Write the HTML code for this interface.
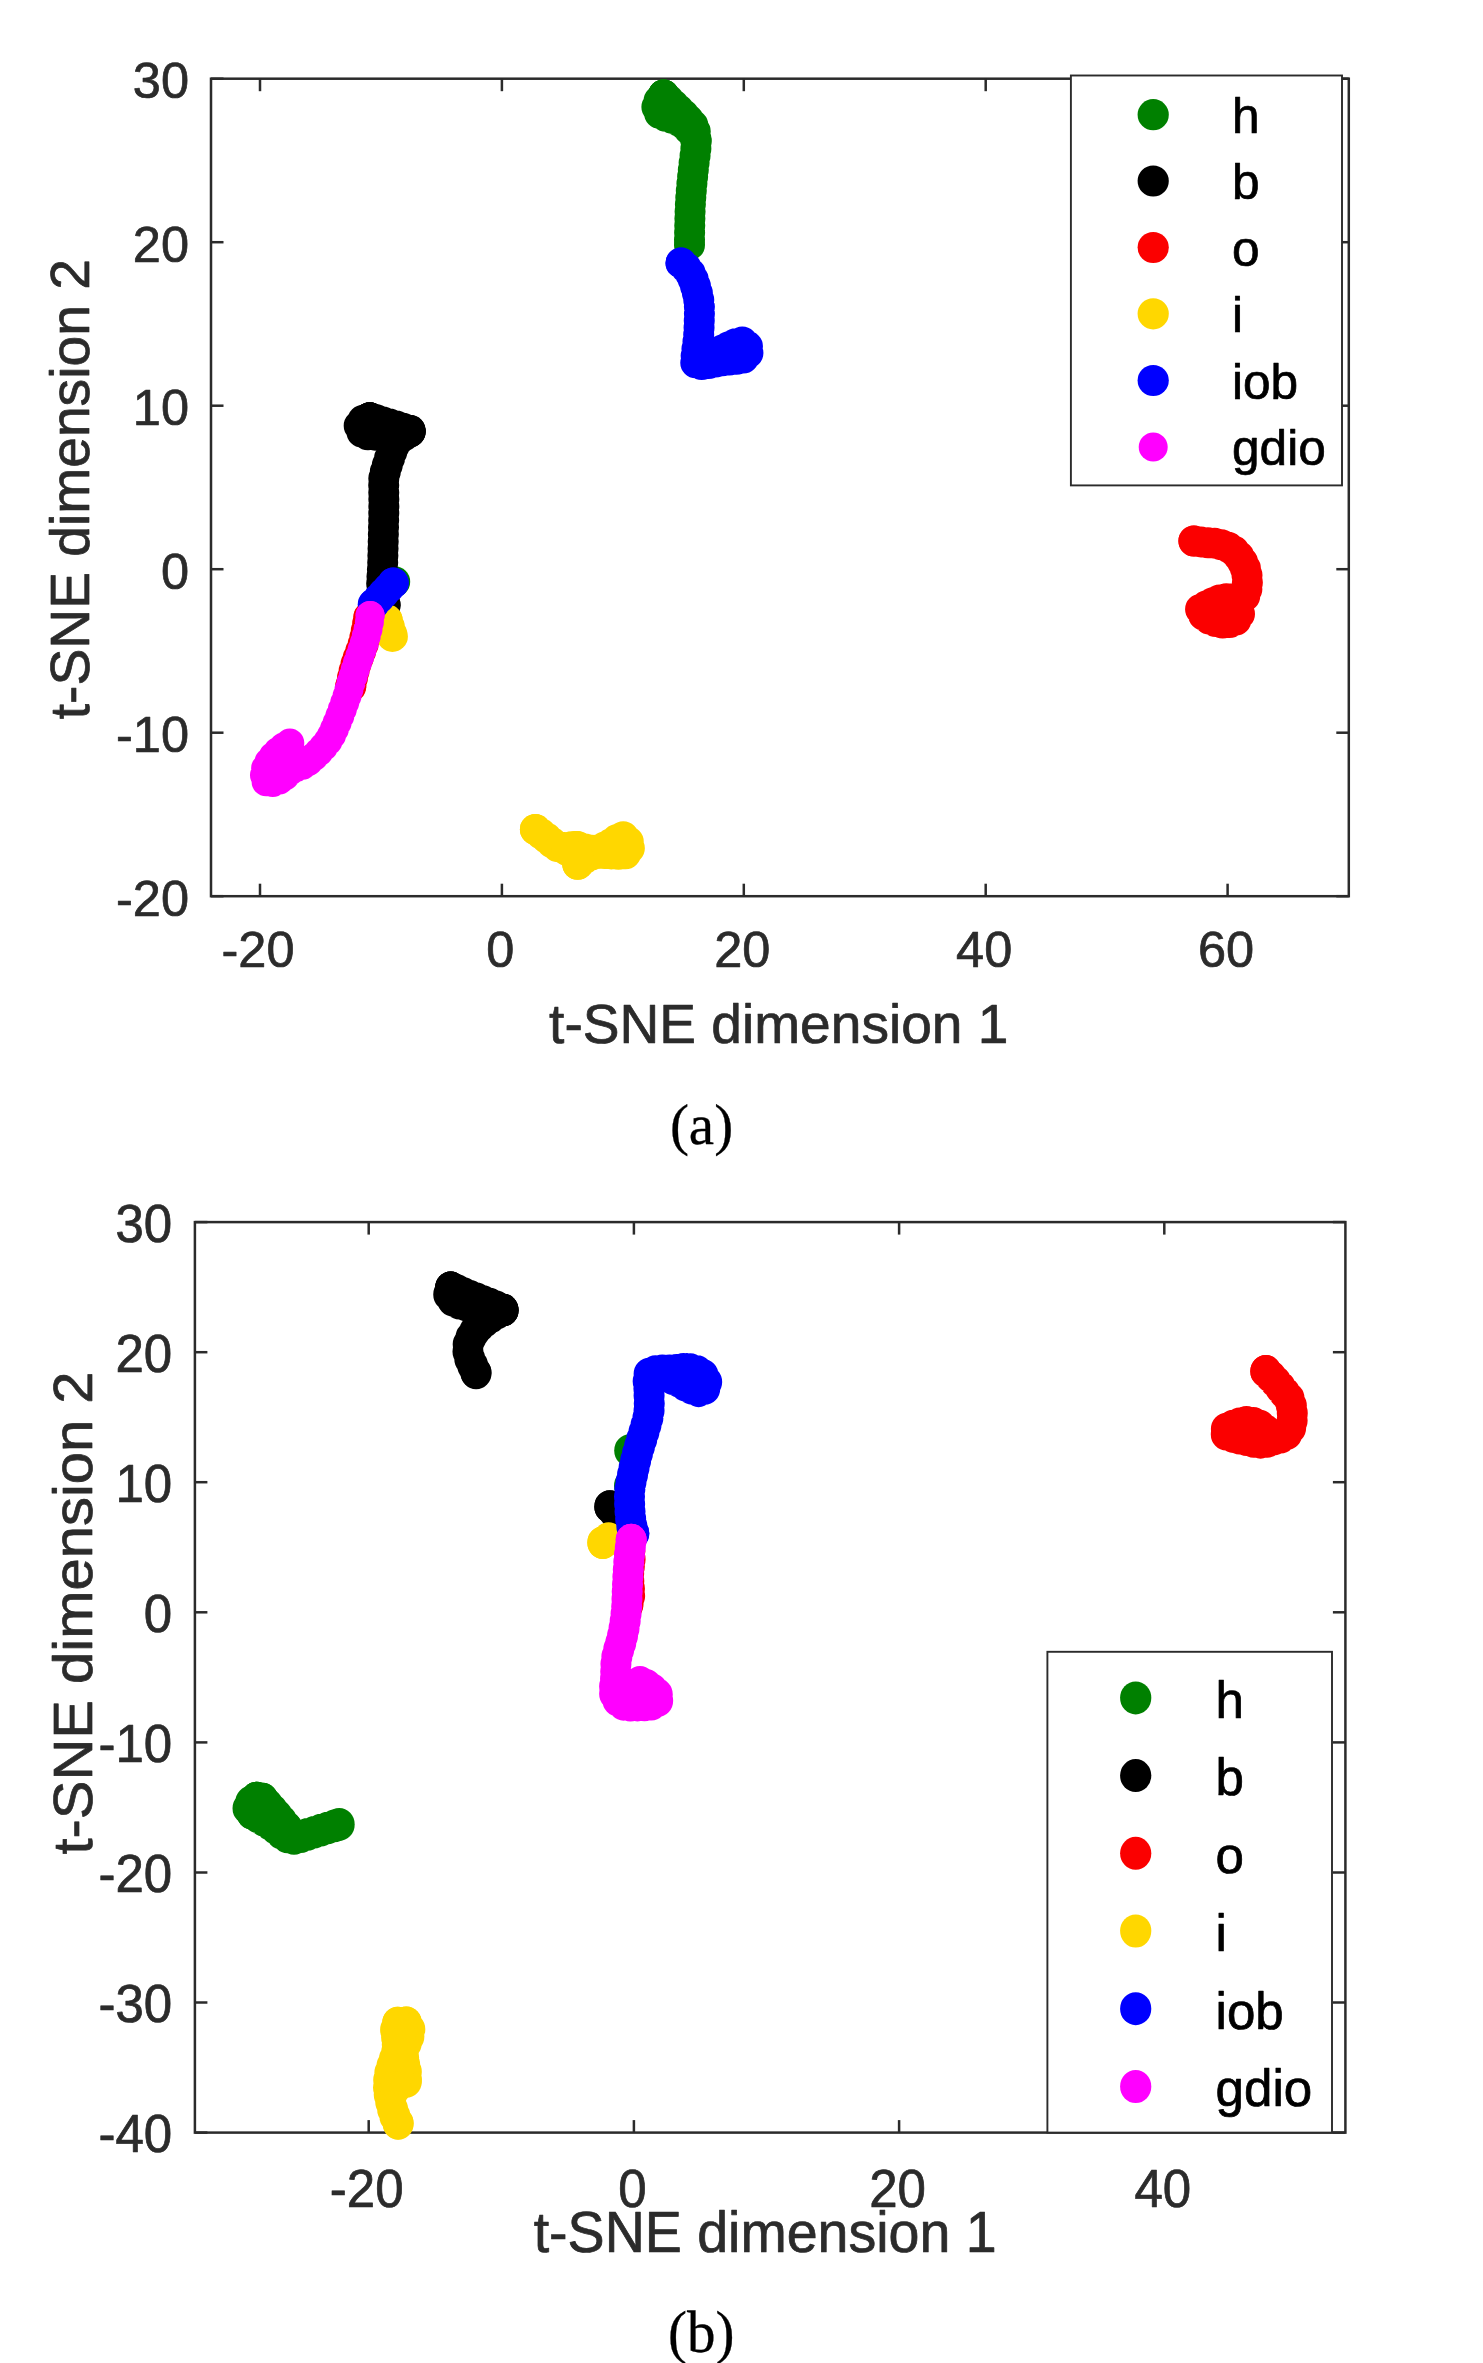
<!DOCTYPE html>
<html lang="en"><head><meta charset="utf-8"><title>t-SNE</title>
<style>html,body{margin:0;padding:0;background:#fff}svg{display:block}</style></head><body>
<svg width="1483" height="2363" viewBox="0 0 1483 2363">
<rect width="1483" height="2363" fill="#fff"/>
<g id="plotA">
<rect x="211.0" y="78.7" width="1137.8" height="817.5" fill="none" stroke="#2b2b2b" stroke-width="2.50"/>
<line x1="260.0" y1="896.2" x2="260.0" y2="883.7" stroke="#2b2b2b" stroke-width="2.50"/>
<line x1="260.0" y1="78.7" x2="260.0" y2="91.2" stroke="#2b2b2b" stroke-width="2.50"/>
<line x1="501.9" y1="896.2" x2="501.9" y2="883.7" stroke="#2b2b2b" stroke-width="2.50"/>
<line x1="501.9" y1="78.7" x2="501.9" y2="91.2" stroke="#2b2b2b" stroke-width="2.50"/>
<line x1="743.8" y1="896.2" x2="743.8" y2="883.7" stroke="#2b2b2b" stroke-width="2.50"/>
<line x1="743.8" y1="78.7" x2="743.8" y2="91.2" stroke="#2b2b2b" stroke-width="2.50"/>
<line x1="985.7" y1="896.2" x2="985.7" y2="883.7" stroke="#2b2b2b" stroke-width="2.50"/>
<line x1="985.7" y1="78.7" x2="985.7" y2="91.2" stroke="#2b2b2b" stroke-width="2.50"/>
<line x1="1227.6" y1="896.2" x2="1227.6" y2="883.7" stroke="#2b2b2b" stroke-width="2.50"/>
<line x1="1227.6" y1="78.7" x2="1227.6" y2="91.2" stroke="#2b2b2b" stroke-width="2.50"/>
<line x1="211.0" y1="78.7" x2="223.5" y2="78.7" stroke="#2b2b2b" stroke-width="2.50"/>
<line x1="1348.8" y1="78.7" x2="1336.3" y2="78.7" stroke="#2b2b2b" stroke-width="2.50"/>
<line x1="211.0" y1="242.2" x2="223.5" y2="242.2" stroke="#2b2b2b" stroke-width="2.50"/>
<line x1="1348.8" y1="242.2" x2="1336.3" y2="242.2" stroke="#2b2b2b" stroke-width="2.50"/>
<line x1="211.0" y1="405.7" x2="223.5" y2="405.7" stroke="#2b2b2b" stroke-width="2.50"/>
<line x1="1348.8" y1="405.7" x2="1336.3" y2="405.7" stroke="#2b2b2b" stroke-width="2.50"/>
<line x1="211.0" y1="569.2" x2="223.5" y2="569.2" stroke="#2b2b2b" stroke-width="2.50"/>
<line x1="1348.8" y1="569.2" x2="1336.3" y2="569.2" stroke="#2b2b2b" stroke-width="2.50"/>
<line x1="211.0" y1="732.7" x2="223.5" y2="732.7" stroke="#2b2b2b" stroke-width="2.50"/>
<line x1="1348.8" y1="732.7" x2="1336.3" y2="732.7" stroke="#2b2b2b" stroke-width="2.50"/>
<line x1="211.0" y1="896.2" x2="223.5" y2="896.2" stroke="#2b2b2b" stroke-width="2.50"/>
<line x1="1348.8" y1="896.2" x2="1336.3" y2="896.2" stroke="#2b2b2b" stroke-width="2.50"/>
<text transform="translate(258.0 967.4)" font-family='"Liberation Sans", Arial, Helvetica, sans-serif' font-size="50.5" text-anchor="middle" fill="#2b2b2b" stroke="#2b2b2b" stroke-width="0.7" stroke-linejoin="round">-20</text>
<text transform="translate(500.4 967.4)" font-family='"Liberation Sans", Arial, Helvetica, sans-serif' font-size="50.5" text-anchor="middle" fill="#2b2b2b" stroke="#2b2b2b" stroke-width="0.7" stroke-linejoin="round">0</text>
<text transform="translate(742.3 967.4)" font-family='"Liberation Sans", Arial, Helvetica, sans-serif' font-size="50.5" text-anchor="middle" fill="#2b2b2b" stroke="#2b2b2b" stroke-width="0.7" stroke-linejoin="round">20</text>
<text transform="translate(984.2 967.4)" font-family='"Liberation Sans", Arial, Helvetica, sans-serif' font-size="50.5" text-anchor="middle" fill="#2b2b2b" stroke="#2b2b2b" stroke-width="0.7" stroke-linejoin="round">40</text>
<text transform="translate(1226.1 967.4)" font-family='"Liberation Sans", Arial, Helvetica, sans-serif' font-size="50.5" text-anchor="middle" fill="#2b2b2b" stroke="#2b2b2b" stroke-width="0.7" stroke-linejoin="round">60</text>
<text transform="translate(189.0 98.3)" font-family='"Liberation Sans", Arial, Helvetica, sans-serif' font-size="50.5" text-anchor="end" fill="#2b2b2b" stroke="#2b2b2b" stroke-width="0.7" stroke-linejoin="round">30</text>
<text transform="translate(189.0 261.8)" font-family='"Liberation Sans", Arial, Helvetica, sans-serif' font-size="50.5" text-anchor="end" fill="#2b2b2b" stroke="#2b2b2b" stroke-width="0.7" stroke-linejoin="round">20</text>
<text transform="translate(189.0 425.3)" font-family='"Liberation Sans", Arial, Helvetica, sans-serif' font-size="50.5" text-anchor="end" fill="#2b2b2b" stroke="#2b2b2b" stroke-width="0.7" stroke-linejoin="round">10</text>
<text transform="translate(189.0 588.8)" font-family='"Liberation Sans", Arial, Helvetica, sans-serif' font-size="50.5" text-anchor="end" fill="#2b2b2b" stroke="#2b2b2b" stroke-width="0.7" stroke-linejoin="round">0</text>
<text transform="translate(189.0 752.3)" font-family='"Liberation Sans", Arial, Helvetica, sans-serif' font-size="50.5" text-anchor="end" fill="#2b2b2b" stroke="#2b2b2b" stroke-width="0.7" stroke-linejoin="round">-10</text>
<text transform="translate(189.0 915.8)" font-family='"Liberation Sans", Arial, Helvetica, sans-serif' font-size="50.5" text-anchor="end" fill="#2b2b2b" stroke="#2b2b2b" stroke-width="0.7" stroke-linejoin="round">-20</text>
<text transform="translate(549.1 1043.1)" font-family='"Liberation Sans", Arial, Helvetica, sans-serif' font-size="55.1" text-anchor="start" fill="#2b2b2b" stroke="#2b2b2b" stroke-width="0.7" stroke-linejoin="round">t-SNE dimension 1</text>
<text transform="translate(89.0 489.2) rotate(-90)" font-family='"Liberation Sans", Arial, Helvetica, sans-serif' font-size="55.2" text-anchor="middle" fill="#2b2b2b" stroke="#2b2b2b" stroke-width="0.7" stroke-linejoin="round">t-SNE dimension 2</text>
<path d="M663.6 95.0C662.6 96.3 658.6 100.6 657.6 103.2C656.5 105.7 656.8 108.4 657.6 110.4C658.3 112.3 659.8 113.8 661.9 115.0C663.9 116.1 666.9 116.2 669.9 117.3C672.9 118.4 676.9 119.7 680.0 121.6C683.1 123.5 686.0 125.6 688.6 128.8C691.3 131.9 695.2 134.1 696.0 140.6C696.8 147.1 694.3 159.8 693.5 167.9C692.8 176.1 691.9 182.3 691.4 189.5C690.8 196.7 690.4 202.7 690.1 211.1C689.8 219.5 689.6 234.2 689.5 239.9C689.4 245.5 689.5 244.1 689.5 244.9" fill="none" stroke="#008000" stroke-width="31.0" stroke-linecap="round" stroke-linejoin="round" stroke-dasharray="0 7.0"/>
<circle cx="663.6" cy="95.0" r="15.5" fill="#008000"/>
<circle cx="689.5" cy="244.9" r="15.5" fill="#008000"/>
<path d="M663.6 95.0C665.5 96.8 671.0 102.3 674.8 106.0C678.6 109.8 683.1 114.0 686.3 117.6C689.6 121.2 692.6 123.8 694.2 127.6C695.9 131.5 695.7 138.4 696.0 140.6" fill="none" stroke="#008000" stroke-width="31.0" stroke-linecap="round" stroke-linejoin="round" stroke-dasharray="0 7.0"/>
<circle cx="663.6" cy="95.0" r="15.5" fill="#008000"/>
<circle cx="696.0" cy="140.6" r="15.5" fill="#008000"/>
<polyline points="664.7,106.0 680.6,117.6" fill="none" stroke="#008000" stroke-width="31.0" stroke-linecap="round" stroke-linejoin="round" stroke-dasharray="0 7.0"/>
<circle cx="664.7" cy="106.0" r="15.5" fill="#008000"/>
<circle cx="680.6" cy="117.6" r="15.5" fill="#008000"/>
<circle cx="394.7" cy="581.8" r="15.5" fill="#008000"/>
<path d="M410.1 431.6C408.0 433.1 400.7 437.4 397.8 440.4C394.9 443.4 394.3 446.1 392.7 449.5C391.2 453.0 389.8 457.5 388.6 461.1C387.4 464.7 386.3 468.4 385.5 471.3C384.7 474.1 384.1 471.6 383.8 478.4C383.5 485.1 384.0 497.8 383.8 511.9C383.6 525.9 383.0 550.0 382.7 562.7C382.3 575.4 381.3 580.9 381.8 588.0C382.2 595.2 384.6 602.4 385.2 605.3" fill="none" stroke="#000000" stroke-width="31.0" stroke-linecap="round" stroke-linejoin="round" stroke-dasharray="0 7.0"/>
<circle cx="410.1" cy="431.6" r="15.5" fill="#000000"/>
<circle cx="385.2" cy="605.3" r="15.5" fill="#000000"/>
<path d="M369.8 417.7C368.6 418.2 364.4 419.0 362.7 420.5C360.9 421.9 359.1 424.5 359.1 426.6C359.1 428.6 360.9 431.3 362.7 432.7C364.4 434.0 365.9 434.5 369.8 434.9C373.7 435.3 381.3 435.1 386.0 435.2C390.7 435.3 393.8 436.3 397.8 435.7C401.8 435.1 408.0 432.5 410.1 431.8" fill="none" stroke="#000000" stroke-width="31.0" stroke-linecap="round" stroke-linejoin="round" stroke-dasharray="0 7.0"/>
<circle cx="369.8" cy="417.7" r="15.5" fill="#000000"/>
<circle cx="410.1" cy="431.8" r="15.5" fill="#000000"/>
<polyline points="369.8,417.7 410.1,430.4" fill="none" stroke="#000000" stroke-width="31.0" stroke-linecap="round" stroke-linejoin="round" stroke-dasharray="0 7.0"/>
<circle cx="369.8" cy="417.7" r="15.5" fill="#000000"/>
<circle cx="410.1" cy="430.4" r="15.5" fill="#000000"/>
<polyline points="372.8,427.6 397.2,433.7" fill="none" stroke="#000000" stroke-width="31.0" stroke-linecap="round" stroke-linejoin="round" stroke-dasharray="0 7.0"/>
<circle cx="372.8" cy="427.6" r="15.5" fill="#000000"/>
<circle cx="397.2" cy="433.7" r="15.5" fill="#000000"/>
<path d="M1193.9 541.0C1196.1 541.3 1202.9 542.2 1206.9 542.6C1210.8 543.1 1213.7 542.7 1217.7 543.7C1221.6 544.7 1226.8 546.1 1230.6 548.5C1234.4 551.0 1237.7 554.5 1240.3 558.3C1242.9 562.0 1245.1 566.7 1246.3 571.2C1247.4 575.7 1247.5 581.3 1247.3 585.2C1247.2 589.2 1246.2 592.4 1245.2 594.9C1244.2 597.4 1243.6 599.7 1241.4 600.3C1239.2 601.0 1235.3 598.8 1231.7 598.7C1228.1 598.6 1223.6 598.8 1219.8 599.8C1216.1 600.8 1212.3 603.0 1209.0 604.6C1205.8 606.3 1201.1 607.6 1200.4 609.5C1199.7 611.4 1202.6 614.1 1204.7 616.0C1206.9 617.9 1210.1 619.7 1213.4 620.8C1216.6 622.0 1220.5 623.0 1224.1 623.0C1227.7 623.0 1232.4 622.6 1234.9 620.8C1237.4 619.0 1240.7 613.6 1239.2 612.2C1237.8 610.8 1230.6 612.2 1226.3 612.2C1222.0 612.2 1215.5 612.2 1213.4 612.2" fill="none" stroke="#fb0000" stroke-width="31.0" stroke-linecap="round" stroke-linejoin="round" stroke-dasharray="0 7.0"/>
<circle cx="1193.9" cy="541.0" r="15.5" fill="#fb0000"/>
<circle cx="1213.4" cy="612.2" r="15.5" fill="#fb0000"/>
<path d="M368.9 617.1C368.0 621.3 365.9 634.2 363.7 642.4C361.4 650.5 357.5 658.7 355.4 666.1C353.2 673.5 351.4 683.4 350.6 686.9" fill="none" stroke="#fb0000" stroke-width="31.0" stroke-linecap="round" stroke-linejoin="round" stroke-dasharray="0 7.0"/>
<circle cx="368.9" cy="617.1" r="15.5" fill="#fb0000"/>
<circle cx="350.6" cy="686.9" r="15.5" fill="#fb0000"/>
<path d="M535.4 829.5C537.3 830.9 543.0 835.2 546.6 838.0C550.2 840.8 553.7 844.8 557.0 846.4C560.4 847.9 563.7 847.4 566.9 847.4C570.1 847.4 572.9 846.0 576.3 846.4C579.7 846.7 583.5 848.8 587.1 849.5C590.7 850.1 593.8 851.1 597.9 850.1C601.9 849.1 607.2 845.6 611.4 843.4C615.5 841.1 619.8 836.4 622.8 836.6C625.9 836.9 628.8 842.3 629.6 844.7C630.4 847.2 628.6 849.9 627.6 851.5C626.5 853.1 626.2 853.8 623.5 854.2C620.8 854.6 615.6 854.0 611.4 853.9C607.1 853.8 601.9 853.0 597.9 853.5C593.8 854.0 590.5 855.1 587.1 856.9C583.7 858.7 579.2 863.1 577.7 864.3" fill="none" stroke="#ffd700" stroke-width="31.0" stroke-linecap="round" stroke-linejoin="round" stroke-dasharray="0 7.0"/>
<circle cx="535.4" cy="829.5" r="15.5" fill="#ffd700"/>
<circle cx="577.7" cy="864.3" r="15.5" fill="#ffd700"/>
<polyline points="576.3,846.4 577.7,864.3" fill="none" stroke="#ffd700" stroke-width="31.0" stroke-linecap="round" stroke-linejoin="round" stroke-dasharray="0 7.0"/>
<circle cx="576.3" cy="846.4" r="15.5" fill="#ffd700"/>
<circle cx="577.7" cy="864.3" r="15.5" fill="#ffd700"/>
<polyline points="566.9,850.1 577.7,856.9" fill="none" stroke="#ffd700" stroke-width="31.0" stroke-linecap="round" stroke-linejoin="round" stroke-dasharray="0 7.0"/>
<circle cx="566.9" cy="850.1" r="15.5" fill="#ffd700"/>
<circle cx="577.7" cy="856.9" r="15.5" fill="#ffd700"/>
<polyline points="387.2,620.1 392.4,636.4" fill="none" stroke="#ffd700" stroke-width="31.0" stroke-linecap="round" stroke-linejoin="round" stroke-dasharray="0 7.0"/>
<circle cx="387.2" cy="620.1" r="15.5" fill="#ffd700"/>
<circle cx="392.4" cy="636.4" r="15.5" fill="#ffd700"/>
<path d="M681.0 262.9C682.4 264.3 686.9 267.9 689.2 271.5C691.5 275.1 693.3 279.4 695.0 284.5C696.6 289.5 698.3 296.0 699.0 301.7C699.7 307.5 699.4 313.2 699.3 319.0C699.2 324.7 699.0 330.5 698.6 336.3C698.1 342.0 696.8 349.0 696.4 353.5C696.0 358.1 694.9 361.8 696.1 363.6C697.3 365.4 699.2 364.8 703.6 364.3C708.0 363.8 715.6 361.8 722.3 360.7C729.0 359.6 739.6 359.8 743.9 357.8C748.2 355.9 748.4 351.8 748.2 349.2C748.0 346.6 746.0 342.3 742.4 342.0C738.8 341.8 731.2 345.6 726.6 347.8C722.1 349.9 717.0 353.8 715.1 355.0" fill="none" stroke="#0000ff" stroke-width="31.0" stroke-linecap="round" stroke-linejoin="round" stroke-dasharray="0 7.0"/>
<circle cx="681.0" cy="262.9" r="15.5" fill="#0000ff"/>
<circle cx="715.1" cy="355.0" r="15.5" fill="#0000ff"/>
<polyline points="393.2,583.0 373.2,604.5" fill="none" stroke="#0000ff" stroke-width="31.0" stroke-linecap="round" stroke-linejoin="round" stroke-dasharray="0 7.0"/>
<circle cx="393.2" cy="583.0" r="15.5" fill="#0000ff"/>
<circle cx="373.2" cy="604.5" r="15.5" fill="#0000ff"/>
<path d="M370.1 615.6C369.9 617.4 369.7 621.7 368.6 626.5C367.6 631.4 365.6 638.7 363.7 644.7C361.9 650.8 359.4 656.9 357.4 662.9C355.3 669.0 353.5 675.1 351.5 681.1C349.6 687.2 348.3 692.3 345.9 699.3C343.5 706.3 339.8 716.3 337.0 723.0C334.2 729.6 332.4 734.3 329.2 739.3C325.9 744.4 321.4 749.2 317.3 753.4C313.2 757.5 308.8 761.6 304.6 764.3C300.4 766.9 296.6 766.8 292.4 769.4C288.3 772.0 284.0 777.8 279.7 779.9C275.3 782.0 268.8 784.0 266.4 782.1C264.0 780.2 264.0 773.2 265.5 768.5C267.0 763.8 271.7 758.0 275.5 753.9C279.3 749.8 285.6 745.4 288.2 743.9C290.8 742.4 291.6 742.5 291.0 744.8C290.3 747.1 286.9 753.3 284.6 757.5C282.3 761.8 278.5 768.2 277.3 770.3" fill="none" stroke="#ff00ff" stroke-width="29.0" stroke-linecap="round" stroke-linejoin="round" stroke-dasharray="0 7.0"/>
<circle cx="370.1" cy="615.6" r="14.5" fill="#ff00ff"/>
<circle cx="277.3" cy="770.3" r="14.5" fill="#ff00ff"/>
</g>
<rect x="1070.9" y="75.5" width="271.1" height="409.9" fill="#fff" stroke="#2b2b2b" stroke-width="1.9"/>
<ellipse cx="1153.2" cy="114.7" rx="15.6" ry="15.6" fill="#008000"/>
<text transform="translate(1232.0 132.7)" font-family='"Liberation Sans", Arial, Helvetica, sans-serif' font-size="49.6" text-anchor="start" fill="#000" stroke="#000" stroke-width="0.7" stroke-linejoin="round">h</text>
<ellipse cx="1153.2" cy="181.0" rx="15.6" ry="15.6" fill="#000000"/>
<text transform="translate(1232.0 199.0)" font-family='"Liberation Sans", Arial, Helvetica, sans-serif' font-size="49.6" text-anchor="start" fill="#000" stroke="#000" stroke-width="0.7" stroke-linejoin="round">b</text>
<ellipse cx="1153.2" cy="247.5" rx="15.6" ry="15.6" fill="#fb0000"/>
<text transform="translate(1232.0 265.5)" font-family='"Liberation Sans", Arial, Helvetica, sans-serif' font-size="49.6" text-anchor="start" fill="#000" stroke="#000" stroke-width="0.7" stroke-linejoin="round">o</text>
<ellipse cx="1153.2" cy="313.8" rx="15.6" ry="15.6" fill="#ffd700"/>
<text transform="translate(1232.0 331.8)" font-family='"Liberation Sans", Arial, Helvetica, sans-serif' font-size="49.6" text-anchor="start" fill="#000" stroke="#000" stroke-width="0.7" stroke-linejoin="round">i</text>
<ellipse cx="1153.2" cy="380.5" rx="15.6" ry="15.6" fill="#0000ff"/>
<text transform="translate(1232.0 398.5)" font-family='"Liberation Sans", Arial, Helvetica, sans-serif' font-size="49.6" text-anchor="start" fill="#000" stroke="#000" stroke-width="0.7" stroke-linejoin="round">iob</text>
<ellipse cx="1153.2" cy="447.0" rx="14.5" ry="14.5" fill="#ff00ff"/>
<text transform="translate(1232.0 465.0)" font-family='"Liberation Sans", Arial, Helvetica, sans-serif' font-size="49.6" text-anchor="start" fill="#000" stroke="#000" stroke-width="0.7" stroke-linejoin="round">gdio</text>
<text transform="translate(701.5 1143.5)" font-family='"Liberation Serif", "Times New Roman", serif' font-size="57.0" text-anchor="middle" fill="#000" stroke="#000" stroke-width="0.3" stroke-linejoin="round">(a)</text>
<g id="plotB">
<rect x="194.9" y="1222.1" width="1150.5" height="910.5" fill="none" stroke="#2b2b2b" stroke-width="2.50"/>
<line x1="368.7" y1="2132.6" x2="368.7" y2="2120.1" stroke="#2b2b2b" stroke-width="2.50"/>
<line x1="368.7" y1="1222.1" x2="368.7" y2="1234.6" stroke="#2b2b2b" stroke-width="2.50"/>
<line x1="633.9" y1="2132.6" x2="633.9" y2="2120.1" stroke="#2b2b2b" stroke-width="2.50"/>
<line x1="633.9" y1="1222.1" x2="633.9" y2="1234.6" stroke="#2b2b2b" stroke-width="2.50"/>
<line x1="899.1" y1="2132.6" x2="899.1" y2="2120.1" stroke="#2b2b2b" stroke-width="2.50"/>
<line x1="899.1" y1="1222.1" x2="899.1" y2="1234.6" stroke="#2b2b2b" stroke-width="2.50"/>
<line x1="1164.3" y1="2132.6" x2="1164.3" y2="2120.1" stroke="#2b2b2b" stroke-width="2.50"/>
<line x1="1164.3" y1="1222.1" x2="1164.3" y2="1234.6" stroke="#2b2b2b" stroke-width="2.50"/>
<line x1="194.9" y1="1222.1" x2="207.4" y2="1222.1" stroke="#2b2b2b" stroke-width="2.50"/>
<line x1="1345.4" y1="1222.1" x2="1332.9" y2="1222.1" stroke="#2b2b2b" stroke-width="2.50"/>
<line x1="194.9" y1="1352.2" x2="207.4" y2="1352.2" stroke="#2b2b2b" stroke-width="2.50"/>
<line x1="1345.4" y1="1352.2" x2="1332.9" y2="1352.2" stroke="#2b2b2b" stroke-width="2.50"/>
<line x1="194.9" y1="1482.2" x2="207.4" y2="1482.2" stroke="#2b2b2b" stroke-width="2.50"/>
<line x1="1345.4" y1="1482.2" x2="1332.9" y2="1482.2" stroke="#2b2b2b" stroke-width="2.50"/>
<line x1="194.9" y1="1612.3" x2="207.4" y2="1612.3" stroke="#2b2b2b" stroke-width="2.50"/>
<line x1="1345.4" y1="1612.3" x2="1332.9" y2="1612.3" stroke="#2b2b2b" stroke-width="2.50"/>
<line x1="194.9" y1="1742.4" x2="207.4" y2="1742.4" stroke="#2b2b2b" stroke-width="2.50"/>
<line x1="1345.4" y1="1742.4" x2="1332.9" y2="1742.4" stroke="#2b2b2b" stroke-width="2.50"/>
<line x1="194.9" y1="1872.5" x2="207.4" y2="1872.5" stroke="#2b2b2b" stroke-width="2.50"/>
<line x1="1345.4" y1="1872.5" x2="1332.9" y2="1872.5" stroke="#2b2b2b" stroke-width="2.50"/>
<line x1="194.9" y1="2002.5" x2="207.4" y2="2002.5" stroke="#2b2b2b" stroke-width="2.50"/>
<line x1="1345.4" y1="2002.5" x2="1332.9" y2="2002.5" stroke="#2b2b2b" stroke-width="2.50"/>
<line x1="194.9" y1="2132.6" x2="207.4" y2="2132.6" stroke="#2b2b2b" stroke-width="2.50"/>
<line x1="1345.4" y1="2132.6" x2="1332.9" y2="2132.6" stroke="#2b2b2b" stroke-width="2.50"/>
<text transform="translate(366.7 2206.6) scale(1.010 1.050)" font-family='"Liberation Sans", Arial, Helvetica, sans-serif' font-size="50.5" text-anchor="middle" fill="#2b2b2b" stroke="#2b2b2b" stroke-width="0.7" stroke-linejoin="round">-20</text>
<text transform="translate(632.4 2206.6) scale(1.010 1.050)" font-family='"Liberation Sans", Arial, Helvetica, sans-serif' font-size="50.5" text-anchor="middle" fill="#2b2b2b" stroke="#2b2b2b" stroke-width="0.7" stroke-linejoin="round">0</text>
<text transform="translate(897.6 2206.6) scale(1.010 1.050)" font-family='"Liberation Sans", Arial, Helvetica, sans-serif' font-size="50.5" text-anchor="middle" fill="#2b2b2b" stroke="#2b2b2b" stroke-width="0.7" stroke-linejoin="round">20</text>
<text transform="translate(1162.8 2206.6) scale(1.010 1.050)" font-family='"Liberation Sans", Arial, Helvetica, sans-serif' font-size="50.5" text-anchor="middle" fill="#2b2b2b" stroke="#2b2b2b" stroke-width="0.7" stroke-linejoin="round">40</text>
<text transform="translate(172.2 1241.6) scale(1.010 1.050)" font-family='"Liberation Sans", Arial, Helvetica, sans-serif' font-size="50.5" text-anchor="end" fill="#2b2b2b" stroke="#2b2b2b" stroke-width="0.7" stroke-linejoin="round">30</text>
<text transform="translate(172.2 1371.7) scale(1.010 1.050)" font-family='"Liberation Sans", Arial, Helvetica, sans-serif' font-size="50.5" text-anchor="end" fill="#2b2b2b" stroke="#2b2b2b" stroke-width="0.7" stroke-linejoin="round">20</text>
<text transform="translate(172.2 1501.7) scale(1.010 1.050)" font-family='"Liberation Sans", Arial, Helvetica, sans-serif' font-size="50.5" text-anchor="end" fill="#2b2b2b" stroke="#2b2b2b" stroke-width="0.7" stroke-linejoin="round">10</text>
<text transform="translate(172.2 1631.8) scale(1.010 1.050)" font-family='"Liberation Sans", Arial, Helvetica, sans-serif' font-size="50.5" text-anchor="end" fill="#2b2b2b" stroke="#2b2b2b" stroke-width="0.7" stroke-linejoin="round">0</text>
<text transform="translate(172.2 1761.9) scale(1.010 1.050)" font-family='"Liberation Sans", Arial, Helvetica, sans-serif' font-size="50.5" text-anchor="end" fill="#2b2b2b" stroke="#2b2b2b" stroke-width="0.7" stroke-linejoin="round">-10</text>
<text transform="translate(172.2 1892.0) scale(1.010 1.050)" font-family='"Liberation Sans", Arial, Helvetica, sans-serif' font-size="50.5" text-anchor="end" fill="#2b2b2b" stroke="#2b2b2b" stroke-width="0.7" stroke-linejoin="round">-20</text>
<text transform="translate(172.2 2022.0) scale(1.010 1.050)" font-family='"Liberation Sans", Arial, Helvetica, sans-serif' font-size="50.5" text-anchor="end" fill="#2b2b2b" stroke="#2b2b2b" stroke-width="0.7" stroke-linejoin="round">-30</text>
<text transform="translate(172.2 2152.1) scale(1.010 1.050)" font-family='"Liberation Sans", Arial, Helvetica, sans-serif' font-size="50.5" text-anchor="end" fill="#2b2b2b" stroke="#2b2b2b" stroke-width="0.7" stroke-linejoin="round">-40</text>
<text transform="translate(533.7 2251.7) scale(1.008 1.050)" font-family='"Liberation Sans", Arial, Helvetica, sans-serif' font-size="55.1" text-anchor="start" fill="#2b2b2b" stroke="#2b2b2b" stroke-width="0.7" stroke-linejoin="round">t-SNE dimension 1</text>
<text transform="translate(92.3 1613.0) rotate(-90) scale(1.050 1.010)" font-family='"Liberation Sans", Arial, Helvetica, sans-serif' font-size="55.2" text-anchor="middle" fill="#2b2b2b" stroke="#2b2b2b" stroke-width="0.7" stroke-linejoin="round">t-SNE dimension 2</text>
<g transform="scale(1 1.055)">
<path d="M256.6 1704.4C255.2 1705.5 248.7 1708.8 247.9 1711.2C247.1 1713.5 249.3 1718.0 251.9 1718.6C254.5 1719.2 261.6 1717.2 263.4 1715.0C265.2 1712.8 263.8 1707.2 262.7 1705.4C261.6 1703.7 257.7 1704.6 256.6 1704.4" fill="none" stroke="#008000" stroke-width="31.0" stroke-linecap="round" stroke-linejoin="round" stroke-dasharray="0 7.0"/>
<circle cx="256.6" cy="1704.4" r="15.5" fill="#008000"/>
<circle cx="256.6" cy="1704.4" r="15.5" fill="#008000"/>
<path d="M262.7 1705.4C265.0 1707.9 272.5 1715.8 276.6 1720.4C280.7 1725.0 285.6 1731.0 287.4 1733.2" fill="none" stroke="#008000" stroke-width="31.0" stroke-linecap="round" stroke-linejoin="round" stroke-dasharray="0 7.0"/>
<circle cx="262.7" cy="1705.4" r="15.5" fill="#008000"/>
<circle cx="287.4" cy="1733.2" r="15.5" fill="#008000"/>
<path d="M251.9 1718.6C255.2 1720.5 266.2 1726.5 271.7 1730.1C277.3 1733.7 281.2 1737.9 285.0 1739.9C288.7 1742.0 290.6 1742.7 294.4 1742.5C298.2 1742.3 303.4 1740.0 307.9 1738.7C312.4 1737.3 316.2 1736.1 321.4 1734.6C326.6 1733.0 336.2 1730.2 339.2 1729.3" fill="none" stroke="#008000" stroke-width="31.0" stroke-linecap="round" stroke-linejoin="round" stroke-dasharray="0 7.0"/>
<circle cx="251.9" cy="1718.6" r="15.5" fill="#008000"/>
<circle cx="339.2" cy="1729.3" r="15.5" fill="#008000"/>
<polyline points="256.6,1712.5 280.9,1732.9" fill="none" stroke="#008000" stroke-width="31.0" stroke-linecap="round" stroke-linejoin="round" stroke-dasharray="0 7.0"/>
<circle cx="256.6" cy="1712.5" r="15.5" fill="#008000"/>
<circle cx="280.9" cy="1732.9" r="15.5" fill="#008000"/>
<circle cx="629.7" cy="1374.9" r="15.5" fill="#008000"/>
<circle cx="629.5" cy="1408.3" r="15.5" fill="#008000"/>
<path d="M503.0 1241.9C501.3 1242.8 496.3 1244.7 492.4 1247.1C488.6 1249.5 483.2 1253.3 479.8 1256.4C476.4 1259.6 474.0 1262.6 472.0 1266.0C469.9 1269.4 468.1 1273.0 467.7 1276.9C467.4 1280.7 469.0 1285.7 470.1 1289.1C471.2 1292.5 473.4 1295.3 474.4 1297.3C475.4 1299.4 475.8 1300.7 476.1 1301.4" fill="none" stroke="#000000" stroke-width="31.0" stroke-linecap="round" stroke-linejoin="round" stroke-dasharray="0 7.0"/>
<circle cx="503.0" cy="1241.9" r="15.5" fill="#000000"/>
<circle cx="476.1" cy="1301.4" r="15.5" fill="#000000"/>
<path d="M450.7 1220.6C450.3 1221.4 448.3 1223.7 448.3 1225.2C448.3 1226.8 449.6 1228.4 450.7 1229.8C451.8 1231.3 452.7 1232.8 455.0 1233.9C457.4 1235.0 460.9 1235.4 464.7 1236.5C468.5 1237.5 473.5 1239.1 477.7 1240.0C481.8 1241.0 485.3 1241.8 489.5 1242.1C493.8 1242.4 500.8 1241.9 503.0 1241.9" fill="none" stroke="#000000" stroke-width="31.0" stroke-linecap="round" stroke-linejoin="round" stroke-dasharray="0 7.0"/>
<circle cx="450.7" cy="1220.6" r="15.5" fill="#000000"/>
<circle cx="503.0" cy="1241.9" r="15.5" fill="#000000"/>
<polyline points="450.7,1220.6 470.1,1228.8 489.5,1236.0 503.0,1241.6" fill="none" stroke="#000000" stroke-width="31.0" stroke-linecap="round" stroke-linejoin="round" stroke-dasharray="0 7.0"/>
<circle cx="450.7" cy="1220.6" r="15.5" fill="#000000"/>
<circle cx="503.0" cy="1241.6" r="15.5" fill="#000000"/>
<polyline points="456.1,1227.8 486.3,1239.0" fill="none" stroke="#000000" stroke-width="31.0" stroke-linecap="round" stroke-linejoin="round" stroke-dasharray="0 7.0"/>
<circle cx="456.1" cy="1227.8" r="15.5" fill="#000000"/>
<circle cx="486.3" cy="1239.0" r="15.5" fill="#000000"/>
<polyline points="609.8,1428.1 614.5,1433.2" fill="none" stroke="#000000" stroke-width="31.0" stroke-linecap="round" stroke-linejoin="round" stroke-dasharray="0 7.0"/>
<circle cx="609.8" cy="1428.1" r="15.5" fill="#000000"/>
<circle cx="614.5" cy="1433.2" r="15.5" fill="#000000"/>
<path d="M1265.8 1299.8C1266.9 1301.0 1270.5 1304.3 1272.8 1306.7C1275.0 1309.0 1277.2 1311.4 1279.2 1313.8C1281.3 1316.2 1283.4 1318.7 1285.2 1321.0C1287.0 1323.3 1288.9 1324.7 1290.0 1327.6C1291.2 1330.5 1291.9 1335.1 1292.2 1338.4C1292.5 1341.7 1292.4 1344.7 1292.0 1347.6C1291.5 1350.5 1290.9 1353.5 1289.5 1355.8C1288.1 1358.1 1285.6 1360.2 1283.6 1361.4C1281.5 1362.6 1279.6 1362.1 1277.1 1362.9C1274.6 1363.7 1271.7 1365.3 1268.5 1366.0C1265.2 1366.7 1262.0 1367.4 1257.7 1367.0C1253.4 1366.6 1246.5 1364.6 1242.6 1363.7C1238.6 1362.9 1236.8 1362.7 1233.9 1361.9C1231.1 1361.1 1226.7 1359.9 1225.3 1358.8C1223.9 1357.7 1223.5 1356.6 1225.3 1355.2C1227.1 1353.9 1232.5 1351.8 1236.1 1350.6C1239.7 1349.5 1243.3 1348.3 1246.9 1348.3C1250.5 1348.3 1254.6 1349.4 1257.7 1350.6C1260.7 1351.9 1262.9 1354.1 1265.2 1355.8C1267.6 1357.5 1270.6 1360.0 1271.7 1360.9" fill="none" stroke="#fb0000" stroke-width="31.0" stroke-linecap="round" stroke-linejoin="round" stroke-dasharray="0 7.0"/>
<circle cx="1265.8" cy="1299.8" r="15.5" fill="#fb0000"/>
<circle cx="1271.7" cy="1360.9" r="15.5" fill="#fb0000"/>
<polyline points="1233.9,1356.8 1266.3,1361.9" fill="none" stroke="#fb0000" stroke-width="31.0" stroke-linecap="round" stroke-linejoin="round" stroke-dasharray="0 7.0"/>
<circle cx="1233.9" cy="1356.8" r="15.5" fill="#fb0000"/>
<circle cx="1266.3" cy="1361.9" r="15.5" fill="#fb0000"/>
<path d="M629.7 1470.9C629.8 1472.1 630.3 1474.3 630.1 1478.0C629.9 1481.8 628.7 1487.8 628.6 1493.4C628.5 1499.0 629.9 1507.0 629.7 1511.8C629.5 1516.6 627.9 1520.3 627.5 1522.0" fill="none" stroke="#fb0000" stroke-width="31.0" stroke-linecap="round" stroke-linejoin="round" stroke-dasharray="0 7.0"/>
<circle cx="629.7" cy="1470.9" r="15.5" fill="#fb0000"/>
<circle cx="627.5" cy="1522.0" r="15.5" fill="#fb0000"/>
<path d="M406.3 1917.4C406.9 1918.6 409.9 1922.1 410.1 1924.8C410.3 1927.6 408.5 1931.0 407.4 1934.0C406.3 1937.1 404.1 1939.8 403.6 1943.2C403.1 1946.6 403.7 1951.1 404.1 1954.5C404.6 1957.9 405.9 1960.6 406.3 1963.7C406.7 1966.8 406.3 1971.4 406.3 1972.9" fill="none" stroke="#ffd700" stroke-width="31.0" stroke-linecap="round" stroke-linejoin="round" stroke-dasharray="0 7.0"/>
<circle cx="406.3" cy="1917.4" r="15.5" fill="#ffd700"/>
<circle cx="406.3" cy="1972.9" r="15.5" fill="#ffd700"/>
<path d="M397.7 1917.7C397.3 1918.4 395.7 1919.2 395.5 1921.8C395.4 1924.3 396.5 1929.4 396.8 1933.0C397.1 1936.6 397.7 1939.7 397.1 1943.2C396.6 1946.8 394.5 1951.1 393.4 1954.5C392.2 1957.9 390.9 1960.5 390.1 1963.7C389.3 1966.9 388.7 1970.5 388.5 1973.9C388.3 1977.3 388.6 1980.7 389.0 1984.1C389.5 1987.5 390.3 1991.0 391.2 1994.4C392.1 1997.8 393.3 2001.5 394.4 2004.6C395.6 2007.7 397.6 2011.4 398.2 2012.8" fill="none" stroke="#ffd700" stroke-width="31.0" stroke-linecap="round" stroke-linejoin="round" stroke-dasharray="0 7.0"/>
<circle cx="397.7" cy="1917.7" r="15.5" fill="#ffd700"/>
<circle cx="398.2" cy="2012.8" r="15.5" fill="#ffd700"/>
<path d="M402.0 1922.8C401.7 1926.2 401.1 1935.6 400.4 1943.2C399.6 1950.9 398.5 1962.8 397.7 1968.8C396.9 1974.8 395.9 1977.3 395.5 1979.0" fill="none" stroke="#ffd700" stroke-width="31.0" stroke-linecap="round" stroke-linejoin="round" stroke-dasharray="0 7.0"/>
<circle cx="402.0" cy="1922.8" r="15.5" fill="#ffd700"/>
<circle cx="395.5" cy="1979.0" r="15.5" fill="#ffd700"/>
<polyline points="602.8,1462.2 608.6,1458.5" fill="none" stroke="#ffd700" stroke-width="31.0" stroke-linecap="round" stroke-linejoin="round" stroke-dasharray="0 7.0"/>
<circle cx="602.8" cy="1462.2" r="15.5" fill="#ffd700"/>
<circle cx="608.6" cy="1458.5" r="15.5" fill="#ffd700"/>
<path d="M633.8 1453.2C633.3 1451.1 631.4 1446.8 630.7 1440.4C630.0 1434.0 629.2 1422.2 629.6 1414.7C630.0 1407.2 631.8 1401.9 633.1 1395.4C634.5 1389.0 635.8 1383.3 637.9 1376.2C639.9 1369.1 643.5 1359.5 645.3 1353.1C647.2 1346.7 648.4 1343.5 649.0 1337.7C649.6 1331.9 649.0 1324.2 649.0 1318.4C648.9 1312.7 647.1 1306.1 648.7 1303.0C650.4 1299.9 654.7 1300.5 658.9 1299.8C663.0 1299.2 669.0 1299.5 673.8 1299.2C678.5 1298.9 682.8 1297.5 687.3 1297.9C691.8 1298.3 697.6 1299.6 700.8 1301.7C704.1 1303.9 706.3 1308.4 706.9 1310.7C707.6 1313.1 706.1 1314.6 704.9 1315.9C703.7 1317.1 702.2 1318.6 699.5 1318.4C696.8 1318.2 692.0 1316.1 688.7 1314.6C685.3 1313.1 683.0 1311.3 679.2 1309.4C675.3 1307.6 667.9 1304.6 665.6 1303.7" fill="none" stroke="#0000ff" stroke-width="31.0" stroke-linecap="round" stroke-linejoin="round" stroke-dasharray="0 7.0"/>
<circle cx="633.8" cy="1453.2" r="15.5" fill="#0000ff"/>
<circle cx="665.6" cy="1303.7" r="15.5" fill="#0000ff"/>
<path d="M631.2 1459.8C630.9 1462.0 630.0 1469.0 629.6 1472.9C629.1 1476.8 629.0 1478.0 628.6 1483.2C628.2 1488.3 627.8 1496.8 627.4 1503.6C627.1 1510.4 627.0 1518.1 626.6 1524.1C626.1 1530.0 625.6 1534.3 624.7 1539.4C623.9 1544.5 622.6 1550.5 621.5 1554.7C620.4 1559.0 619.2 1561.5 618.3 1565.0C617.4 1568.4 616.5 1570.9 616.1 1575.2C615.6 1579.4 615.8 1585.6 615.6 1590.5C615.3 1595.5 613.7 1600.9 614.5 1604.8C615.3 1608.7 618.0 1612.2 620.4 1614.0C622.8 1615.9 625.8 1615.7 629.0 1616.1C632.3 1616.4 636.2 1616.2 639.8 1616.1C643.4 1616.0 647.5 1616.4 650.6 1615.6C653.8 1614.7 657.6 1612.6 658.7 1611.0C659.8 1609.3 658.6 1607.7 657.1 1605.9C655.6 1604.0 652.3 1601.6 649.5 1599.7C646.7 1597.8 643.1 1594.9 640.4 1594.6C637.7 1594.3 635.6 1596.0 633.4 1597.7C631.1 1599.4 626.2 1603.5 626.9 1604.8C627.6 1606.2 634.4 1605.5 637.7 1605.9C640.9 1606.2 644.9 1606.7 646.3 1606.9" fill="none" stroke="#ff00ff" stroke-width="31.0" stroke-linecap="round" stroke-linejoin="round" stroke-dasharray="0 7.0"/>
<circle cx="631.2" cy="1459.8" r="15.5" fill="#ff00ff"/>
<circle cx="646.3" cy="1606.9" r="15.5" fill="#ff00ff"/>
</g>
</g>
<rect x="1047.4" y="1651.8" width="284.6" height="480.8" fill="#fff" stroke="#2b2b2b" stroke-width="1.9"/>
<ellipse cx="1135.7" cy="1697.9" rx="15.6" ry="16.5" fill="#008000"/>
<text transform="translate(1215.6 1717.7) scale(1.030 1.055)" font-family='"Liberation Sans", Arial, Helvetica, sans-serif' font-size="49.6" text-anchor="start" fill="#000" stroke="#000" stroke-width="0.7" stroke-linejoin="round">h</text>
<ellipse cx="1135.7" cy="1775.6" rx="15.6" ry="16.5" fill="#000000"/>
<text transform="translate(1215.6 1795.4) scale(1.030 1.055)" font-family='"Liberation Sans", Arial, Helvetica, sans-serif' font-size="49.6" text-anchor="start" fill="#000" stroke="#000" stroke-width="0.7" stroke-linejoin="round">b</text>
<ellipse cx="1135.7" cy="1853.3" rx="15.6" ry="16.5" fill="#fb0000"/>
<text transform="translate(1215.6 1873.1) scale(1.030 1.055)" font-family='"Liberation Sans", Arial, Helvetica, sans-serif' font-size="49.6" text-anchor="start" fill="#000" stroke="#000" stroke-width="0.7" stroke-linejoin="round">o</text>
<ellipse cx="1135.7" cy="1931.0" rx="15.6" ry="16.5" fill="#ffd700"/>
<text transform="translate(1215.6 1950.8) scale(1.030 1.055)" font-family='"Liberation Sans", Arial, Helvetica, sans-serif' font-size="49.6" text-anchor="start" fill="#000" stroke="#000" stroke-width="0.7" stroke-linejoin="round">i</text>
<ellipse cx="1135.7" cy="2008.7" rx="15.6" ry="16.5" fill="#0000ff"/>
<text transform="translate(1215.6 2028.5) scale(1.030 1.055)" font-family='"Liberation Sans", Arial, Helvetica, sans-serif' font-size="49.6" text-anchor="start" fill="#000" stroke="#000" stroke-width="0.7" stroke-linejoin="round">iob</text>
<ellipse cx="1135.7" cy="2086.5" rx="15.6" ry="16.5" fill="#ff00ff"/>
<text transform="translate(1215.6 2106.3) scale(1.030 1.055)" font-family='"Liberation Sans", Arial, Helvetica, sans-serif' font-size="49.6" text-anchor="start" fill="#000" stroke="#000" stroke-width="0.7" stroke-linejoin="round">gdio</text>
<text transform="translate(701.3 2351.6) scale(1.000 1.030)" font-family='"Liberation Serif", "Times New Roman", serif' font-size="57.0" text-anchor="middle" fill="#000" stroke="#000" stroke-width="0.3" stroke-linejoin="round">(b)</text>
</svg></body></html>
